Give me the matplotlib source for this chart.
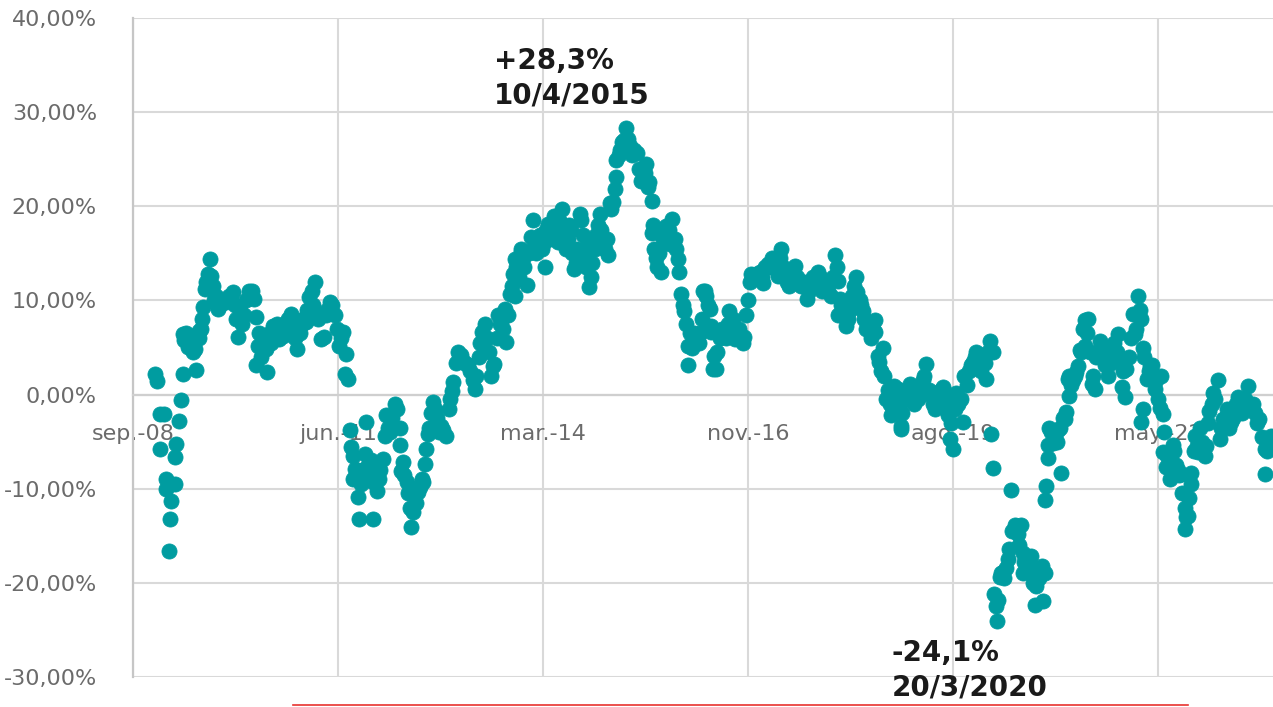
import matplotlib
matplotlib.use("Agg")
import matplotlib.pyplot as plt
import pandas as pd
from matplotlib.lines import Line2D

# ---- data (fecha en años decimales, valor en %) ----
# lecturas principales
fechas = [
    2008.99, 2009.02, 2009.05, 2009.05, 2009.11, 2009.13, 2009.13, 2009.18, 2009.19, 2009.20,
    2009.25, 2009.25, 2009.27, 2009.31, 2009.33, 2009.36, 2009.36, 2009.43, 2009.49, 2009.54,
    2009.60, 2009.63, 2009.65, 2009.72, 2009.74, 2009.83,
    2010.03, 2010.07, 2010.09, 2010.25, 2010.31, 2010.34, 2010.34, 2010.36, 2010.47, 2010.49,
    2010.56, 2010.65, 2010.81, 2010.89,
    2011.00, 2011.05, 2011.12, 2011.20, 2011.25, 2011.27, 2011.32, 2011.39, 2011.45, 2011.50,
    2011.52, 2011.54, 2011.57, 2011.59, 2011.61, 2011.63, 2011.66, 2011.70, 2011.72, 2011.79,
    2011.81, 2011.90, 2011.90, 2011.96,
    2012.03, 2012.06, 2012.08, 2012.19, 2012.26, 2012.26, 2012.28, 2012.30, 2012.35, 2012.39,
    2012.41, 2012.50, 2012.57, 2012.59, 2012.61, 2012.63, 2012.70, 2012.81, 2012.88, 2012.95,
    2012.97,
    2013.01, 2013.03, 2013.17, 2013.26, 2013.28, 2013.35, 2013.37, 2013.39, 2013.48, 2013.52,
    2013.57, 2013.66, 2013.68, 2013.73, 2013.77, 2013.79, 2013.79, 2013.88, 2013.88, 2013.95,
    2014.01, 2014.04, 2014.19, 2014.24, 2014.37, 2014.42, 2014.59, 2014.66, 2014.77, 2014.79,
    2014.93,
    2015.04, 2015.06, 2015.08, 2015.13, 2015.15, 2015.15, 2015.22, 2015.28, 2015.33, 2015.42,
    2015.48, 2015.55, 2015.59, 2015.62, 2015.62, 2015.66, 2015.75, 2015.82, 2015.90, 2015.93,
    2015.97,
    2016.02, 2016.06, 2016.11, 2016.11, 2016.29, 2016.31, 2016.33, 2016.40, 2016.42, 2016.42,
    2016.44, 2016.46, 2016.48, 2016.66, 2016.73, 2016.86, 2016.91, 2016.95,
    2017.11, 2017.17, 2017.31, 2017.35, 2017.48, 2017.53, 2017.69, 2017.69, 2017.84, 2017.89,
    2018.07, 2018.11, 2018.11, 2018.13, 2018.22, 2018.35, 2018.37, 2018.44, 2018.49, 2018.60,
    2018.60, 2018.64, 2018.69, 2018.71, 2018.75, 2018.82, 2018.86, 2018.91, 2018.95, 2018.95,
    2019.07, 2019.18, 2019.29, 2019.40, 2019.51, 2019.58, 2019.60, 2019.65, 2019.69, 2019.78,
    2019.80, 2019.89, 2019.96,
    2020.07, 2020.09, 2020.14, 2020.16, 2020.18, 2020.18, 2020.20, 2020.23, 2020.27, 2020.36,
    2020.40, 2020.42, 2020.47, 2020.56, 2020.58, 2020.58, 2020.69, 2020.74, 2020.76, 2020.83,
    2020.85, 2020.87, 2020.88, 2020.89, 2020.91, 2020.91, 2020.93, 2020.98,
    2021.05, 2021.09, 2021.14, 2021.16, 2021.18, 2021.20, 2021.20, 2021.29, 2021.34, 2021.36,
    2021.38, 2021.41, 2021.41, 2021.45, 2021.50, 2021.54, 2021.61, 2021.67, 2021.72, 2021.76,
    2021.85, 2021.90, 2021.94, 2021.96,
    2022.05, 2022.07, 2022.12, 2022.16, 2022.16, 2022.18, 2022.18, 2022.23, 2022.30, 2022.34,
    2022.41, 2022.43, 2022.45, 2022.45, 2022.49, 2022.54, 2022.58, 2022.69, 2022.74, 2022.74,
    2022.78, 2022.83, 2022.83, 2022.88, 2022.92,
    2023.01, 2023.07, 2023.12, 2023.18, 2023.21, 2023.25, 2023.36, 2023.45, 2023.58, 2023.65,
    2023.74, 2023.81, 2023.81, 2023.90,
]
valores = [
    2.2, 1.4, -2.1, -5.8, -2.1, -9.0, -10.0, -16.6, -13.2, -11.3,
    -9.5, -6.6, -5.3, -2.8, -0.6, 2.2, 6.4, 5.1, 4.5, 2.6,
    7.0, 9.3, 11.2, 14.4, 12.6, 9.1,
    10.9, 8.0, 6.1, 11.0, 10.2, 8.2, 3.1, 5.2, 4.8, 2.4,
    7.3, 5.9, 8.6, 4.8,
    7.7, 10.4, 12.0, 5.9, 6.1, 8.4, 9.8, 8.4, 5.2, 6.6,
    2.2, 4.3, 1.7, -3.8, -5.6, -9.0, -7.9, -10.9, -13.2, -6.3,
    -2.9, -13.2, -9.3, -10.2,
    -6.8, -4.4, -2.2, -1.0, -3.5, -5.4, -8.1, -7.2, -9.3, -12.0,
    -14.1, -10.4, -9.3, -7.4, -5.8, -4.2, -0.8, -3.3, -4.4, 0.4,
    1.3,
    3.4, 4.5, 3.1, 0.6, 2.0, 6.6, 5.4, 7.5, 2.0, 3.2,
    8.4, 9.1, 5.6, 10.7, 12.8, 14.4, 10.5, 15.1, 15.5, 11.6,
    16.7, 18.5, 13.5, 18.1, 16.2, 19.7, 13.3, 19.2, 16.2, 11.4,
    19.2,
    14.8, 20.4, 19.7, 21.8, 23.1, 24.9, 26.8, 28.3, 26.4, 25.7,
    22.7, 24.5, 22.6, 20.6, 17.2, 15.5, 13.0, 17.9, 18.7, 16.5,
    14.4,
    10.7, 8.9, 5.2, 3.1, 8.0, 11.0, 11.0, 9.1, 7.3, 6.6,
    2.7, 4.1, 2.7, 8.9, 5.9, 6.1, 10.0, 12.8,
    11.9, 13.9, 12.6, 15.5, 12.1, 13.7, 10.2, 11.8, 13.0, 11.0,
    14.8, 12.1, 8.4, 10.2, 7.3, 12.5, 10.9, 8.9, 7.0, 7.9,
    6.6, 4.1, 2.5, 5.0, -0.5, -2.2, 0.9, 0.6, -3.7, -3.3,
    1.1, -0.5, 3.3, -1.5, 0.8, -2.2, -4.7, -5.8, 0.2, -2.9,
    2.0, 3.1, 4.5,
    3.4, 1.7, 5.7, -4.2, 4.5, -7.8, -21.2, -24.1, -19.4, -18.4,
    -16.4, -10.1, -13.9, -13.9, -16.8, -18.9, -17.1, -22.4, -20.3, -18.2,
    -21.9, -18.9, -11.2, -9.7, -6.7, -5.4, -3.5, -5.1,
    -3.8, -8.3, -2.6, -1.9, 1.7, -0.1, 2.0, 2.4, 4.7, 4.5,
    7.0, 7.9, 5.2, 8.0, 1.1, 0.6, 5.7, 3.1, 2.0, 3.4,
    6.4, 0.8, -0.3, 2.7,
    8.6, 6.4, 10.5, 8.0, -2.9, 5.0, -1.5, 1.7, 3.1, 0.6,
    -1.4, 2.0, -2.1, -6.1, -7.7, -9.0, -5.4, -8.4, -12.0, -14.3,
    -12.9, -8.3, -9.5, -4.4, -6.1,
    -6.5, -1.7, 0.2, 1.5, -4.7, -2.6, -2.9, -0.3, 0.9, -1.0,
    -2.6, -5.8, -8.4, -4.4,
]

# lecturas adicionales (zonas densas)
fechas_extra = [
    2009.38, 2009.40, 2009.46, 2009.52, 2009.57, 2009.58, 2009.62, 2009.67, 2009.70, 2009.76,
    2009.78, 2009.80, 2009.86, 2009.90, 2009.94, 2009.97, 2010.00, 2010.05, 2010.12, 2010.15,
    2010.18, 2010.21, 2010.28, 2010.38, 2010.40, 2010.42, 2010.45, 2010.52, 2010.54, 2010.58,
    2010.60, 2010.62, 2010.68, 2010.70, 2010.73, 2010.76, 2010.78, 2010.84, 2010.86, 2010.92,
    2010.95, 2010.97, 2011.02, 2011.08, 2011.10, 2011.14, 2011.17, 2011.22, 2011.29, 2011.35,
    2011.42, 2011.47, 2011.64, 2011.68, 2011.74, 2011.76, 2011.83, 2011.85, 2011.87, 2011.93,
    2011.98, 2012.00, 2012.10, 2012.13, 2012.16, 2012.22, 2012.32, 2012.37, 2012.44, 2012.47,
    2012.53, 2012.55, 2012.65, 2012.67, 2012.73, 2012.76, 2012.78, 2012.84, 2012.91, 2012.93,
    2013.05, 2013.08, 2013.11, 2013.14, 2013.20, 2013.23, 2013.31, 2013.33, 2013.42, 2013.45,
    2013.50, 2013.55, 2013.60, 2013.62, 2013.64, 2013.70, 2013.75, 2013.81, 2013.83, 2013.85,
    2013.90, 2013.92, 2013.98, 2014.03, 2014.06, 2014.08, 2014.10, 2014.13, 2014.15, 2014.17,
    2014.21, 2014.26, 2014.28, 2014.30, 2014.32, 2014.34, 2014.39, 2014.44, 2014.46, 2014.48,
    2014.50, 2014.52, 2014.54, 2014.56, 2014.61, 2014.63, 2014.68, 2014.70, 2014.72, 2014.74,
    2014.81, 2014.83, 2014.86, 2014.88, 2014.90, 2014.95, 2014.97, 2015.00, 2015.02, 2015.10,
    2015.18, 2015.20, 2015.25, 2015.30, 2015.36, 2015.39, 2015.45, 2015.51, 2015.53, 2015.57,
    2015.64, 2015.68, 2015.70, 2015.72, 2015.78, 2015.80, 2015.85, 2015.87, 2015.95, 2015.99,
    2016.04, 2016.08, 2016.14, 2016.16, 2016.19, 2016.22, 2016.25, 2016.27, 2016.35, 2016.37,
    2016.50, 2016.53, 2016.56, 2016.59, 2016.62, 2016.64, 2016.69, 2016.71, 2016.76, 2016.79,
    2016.82, 2016.84, 2016.88, 2016.93, 2016.98, 2017.01, 2017.04, 2017.07, 2017.09, 2017.14,
    2017.20, 2017.23, 2017.26, 2017.29, 2017.33, 2017.38, 2017.40, 2017.43, 2017.45, 2017.50,
    2017.56, 2017.59, 2017.62, 2017.65, 2017.72, 2017.75, 2017.78, 2017.81, 2017.87, 2017.92,
    2017.95, 2017.98, 2018.01, 2018.04, 2018.09, 2018.15, 2018.17, 2018.19, 2018.25, 2018.27,
    2018.30, 2018.32, 2018.40, 2018.42, 2018.46, 2018.52, 2018.55, 2018.58, 2018.66, 2018.73,
    2018.78, 2018.80, 2018.84, 2018.88, 2018.93, 2018.97, 2019.00, 2019.02, 2019.05, 2019.10,
    2019.12, 2019.15, 2019.21, 2019.24, 2019.26, 2019.32, 2019.35, 2019.38, 2019.43, 2019.46,
    2019.49, 2019.54, 2019.56, 2019.62, 2019.67, 2019.72, 2019.75, 2019.83, 2019.86, 2019.92,
    2019.94, 2019.99, 2020.02, 2020.04, 2020.11, 2020.22, 2020.25, 2020.29, 2020.31, 2020.33,
    2020.38, 2020.44, 2020.49, 2020.51, 2020.53, 2020.60, 2020.62, 2020.65, 2020.67, 2020.71,
    2020.79, 2020.81, 2020.95, 2021.01, 2021.03, 2021.07, 2021.11, 2021.22, 2021.25, 2021.27,
    2021.31, 2021.43, 2021.47, 2021.52, 2021.56, 2021.58, 2021.63, 2021.65, 2021.69, 2021.74,
    2021.78, 2021.80, 2021.83, 2021.87, 2021.92, 2021.99, 2022.02, 2022.09, 2022.14, 2022.20,
    2022.26, 2022.28, 2022.32, 2022.36, 2022.38, 2022.47, 2022.51, 2022.56, 2022.60, 2022.62,
    2022.65, 2022.67, 2022.71, 2022.76, 2022.80, 2022.86, 2022.90, 2022.95, 2022.97, 2023.03,
    2023.05, 2023.10, 2023.15, 2023.23, 2023.28, 2023.30, 2023.33, 2023.39, 2023.42, 2023.48,
    2023.51, 2023.54, 2023.61, 2023.68, 2023.71, 2023.77, 2023.84, 2023.87, 2023.93,
]
valores_extra = [
    5.8, 6.5, 5.5, 4.8, 6.0, 6.8, 8.0, 12.0, 12.8, 11.5,
    10.0, 10.5, 9.5, 10.0, 9.8, 10.5, 10.0, 9.5, 9.0, 7.5,
    8.5, 10.0, 11.0, 6.5, 4.0, 5.0, 6.0, 6.5, 5.5, 7.0,
    6.5, 7.5, 7.0, 6.2, 7.5, 8.0, 7.5, 7.0, 6.0, 6.5,
    7.5, 8.0, 9.0, 11.0, 9.5, 8.5, 8.0, 8.5, 9.0, 9.5,
    7.0, 6.0, -6.5, -8.5, -9.5, -8.0, -7.5, -8.5, -7.0, -8.0,
    -9.0, -8.0, -3.5, -4.0, -2.5, -1.5, -8.5, -10.5, -12.5, -11.5,
    -9.8, -9.0, -3.5, -2.0, -1.5, -2.5, -4.0, -3.8, -1.5, -0.5,
    3.8, 4.2, 3.5, 3.2, 2.5, 1.5, 4.0, 5.5, 6.0, 4.5,
    3.0, 6.0, 7.5, 8.0, 7.0, 8.5, 11.5, 13.5, 14.0, 12.5,
    14.5, 13.5, 15.0, 15.5, 16.0, 15.0, 16.5, 17.0, 15.5, 16.0,
    17.5, 16.5, 17.0, 18.0, 19.0, 17.5, 18.5, 18.0, 17.0, 15.5,
    16.5, 18.0, 17.5, 15.0, 14.0, 15.5, 18.5, 17.0, 15.0, 13.5,
    12.5, 14.0, 15.5, 17.0, 18.0, 17.5, 16.0, 15.5, 16.5, 20.5,
    25.5, 26.0, 27.0, 27.2, 25.5, 26.0, 24.0, 23.0, 23.5, 22.0,
    18.0, 14.5, 13.5, 15.0, 16.5, 17.0, 17.5, 16.0, 15.5, 13.0,
    9.5, 7.5, 6.5, 5.0, 6.5, 6.0, 5.5, 6.5, 10.5, 9.5,
    4.5, 6.0, 7.0, 6.5, 6.0, 7.5, 7.0, 8.0, 6.5, 7.0,
    6.0, 5.5, 8.5, 12.0, 12.5, 12.8, 12.5, 13.0, 12.5, 13.5,
    13.5, 14.5, 14.0, 13.5, 14.5, 13.5, 13.0, 12.0, 11.5, 13.0,
    12.5, 12.0, 11.5, 12.0, 11.0, 12.0, 12.5, 11.5, 12.5, 11.5,
    12.0, 11.0, 10.5, 12.5, 13.5, 9.5, 8.5, 9.0, 8.0, 9.0,
    10.5, 11.5, 10.0, 9.5, 8.0, 7.5, 6.0, 7.0, 3.5, 2.0,
    0.5, -1.0, -1.5, -0.5, -1.5, -2.0, -0.5, 0.5, -0.5, 0.0,
    -1.0, 0.5, 0.0, 1.5, 2.0, 0.5, 0.0, -1.0, -0.5, -1.0,
    0.5, -0.5, -1.5, -3.0, -1.5, -1.0, -0.5, 1.0, 2.5, 3.5,
    4.0, 3.0, 2.5, 3.5, 4.5, -22.5, -21.8, -19.0, -18.8, -19.5,
    -17.5, -14.5, -14.0, -14.8, -16.0, -17.8, -18.0, -17.5, -18.5, -20.0,
    -19.5, -18.5, -4.0, -4.5, -5.0, -3.5, -2.5, 1.0, 1.5, 2.0,
    3.0, 6.5, 4.5, 2.0, 4.0, 4.5, 5.0, 4.0, 3.5, 4.0,
    5.0, 5.5, 4.5, 3.5, 2.5, 4.0, 6.0, 7.0, 9.0, 4.0,
    2.5, 3.0, 2.0, 1.5, -0.5, -4.0, -6.5, -7.0, -6.0, -7.5,
    -8.0, -8.5, -10.5, -13.0, -11.0, -6.0, -5.5, -3.5, -5.0, -5.5,
    -3.0, -1.0, -0.5, -3.5, -2.5, -1.5, -3.5, -2.5, -1.0, -1.5,
    -2.0, -0.5, -1.5, -2.0, -3.0, -4.5, -6.0, -5.0, -4.5,
]

tick_labels = ["sep.-08", "jun.-11", "mar.-14", "nov.-16", "ago.-19", "may.-22"]
y_ticks = [-30, -20, -10, 0, 10, 20, 30, 40]
y_labels = ["-30,00%", "-20,00%", "-10,00%", "0,00%", "10,00%", "20,00%", "30,00%", "40,00%"]

max_txt = "+28,3%\n10/4/2015"
max_pos = (2013.52, 36.9)
min_txt = "-24,1%\n20/3/2020"
min_pos = (2018.83, -26.0)


def to_date(y):
    yr = int(y)
    a = pd.Timestamp(yr, 1, 1)
    b = pd.Timestamp(yr + 1, 1, 1)
    return a + (b - a) * (y - yr)


todas_f = fechas + fechas_extra
todos_v = valores + valores_extra
x = [to_date(f) for f in todas_f]

teal = "#009ca0"
grid_c = "#d9d9d9"
txt_c = "#6b6b6b"

plt.rcParams["font.family"] = ["DejaVu Sans"]

fig = plt.figure(figsize=(12.73, 7.07), dpi=100)
ax = fig.add_axes([133 / 1273, 1 - 677 / 707, 1 - 133 / 1273, (677 - 18) / 707])

start = pd.Timestamp("2008-09-11")
ax.set_xlim(start, start + pd.Timedelta(days=5561))
ax.set_ylim(-30, 40)

xt = [start + pd.Timedelta(days=1000 * k) for k in range(len(tick_labels))]
ax.set_xticks(xt)
ax.set_xticklabels(tick_labels)
ax.set_yticks(y_ticks)
ax.set_yticklabels(y_labels)

ax.set_axisbelow(True)
ax.grid(True, color=grid_c, linewidth=1.5)
for s in ["top", "right"]:
    ax.spines[s].set_visible(False)
ax.spines["left"].set_color("#c6c6c6")
ax.spines["left"].set_linewidth(1.6)
ax.spines["bottom"].set_position(("data", 0))
ax.spines["bottom"].set_color("#cfcfcf")
ax.spines["bottom"].set_linewidth(1.6)

ax.tick_params(axis="x", length=0, pad=21, labelsize=16, labelcolor=txt_c)
ax.tick_params(axis="y", length=0, pad=26, labelsize=16, labelcolor=txt_c)

ax.scatter(x, todos_v, s=118, color=teal, edgecolors=teal, linewidths=0.6, zorder=3)

ax.text(to_date(max_pos[0]), max_pos[1], max_txt, fontsize=20, fontweight="bold",
        color="#1a1a1a", ha="left", va="top", linespacing=1.3, zorder=4)
ax.text(to_date(min_pos[0]), min_pos[1], min_txt, fontsize=20, fontweight="bold",
        color="#1a1a1a", ha="left", va="top", linespacing=1.3, zorder=4, clip_on=False)

fig.add_artist(Line2D([293 / 1273, 1188 / 1273], [1 - 705 / 707, 1 - 705 / 707],
                      color="#e8322f", linewidth=1.2, transform=fig.transFigure))

fig.savefig("out.png", dpi=100)
